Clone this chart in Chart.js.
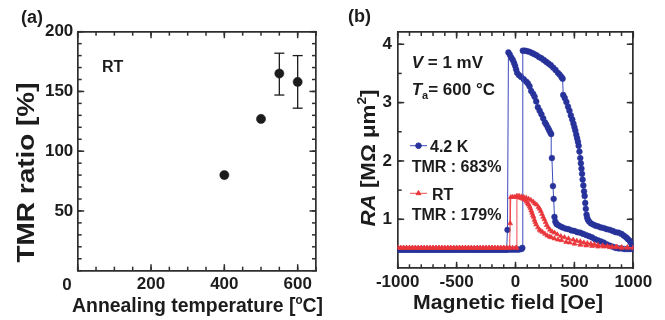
<!DOCTYPE html>
<html><head><meta charset="utf-8">
<script src="https://cdn.jsdelivr.net/npm/chart.js@4.4.1/dist/chart.umd.min.js"></script>
<style>
html,body{margin:0;padding:0;background:#fff;}
#wrap{position:relative;width:665px;height:320px;overflow:hidden;background:#fff;}
canvas{position:absolute;top:0;}
#ca{left:0;} #cb{left:330px;}
</style></head><body>
<div id="wrap"><canvas id="ca" width="330" height="320"></canvas><canvas id="cb" width="335" height="320"></canvas></div>
<script>
// ---------- Panel (a) data ----------
const annealTemps = [400, 500, 550, 600];
const tmrRatio    = [80, 127, 165, 158];
const tmrErrLow   = [null, null, 147, 136];
const tmrErrHigh  = [null, null, 182, 180];
const aXTicks = [0, 200, 400, 600];
const aYTicks = [50, 100, 150, 200];

// ---------- Panel (b) data: [field (Oe), RA (MOhm um^2)] ----------
const blueUp = [[-1000,0.48],[-975,0.48],[-950,0.48],[-925,0.48],[-900,0.48],[-875,0.48],[-850,0.48],[-825,0.48],[-800,0.48],[-775,0.48],[-750,0.48],[-725,0.48],[-700,0.48],[-675,0.48],[-650,0.48],[-625,0.48],[-600,0.48],[-575,0.48],[-550,0.48],[-525,0.48],[-500,0.48],[-475,0.48],[-450,0.48],[-425,0.48],[-400,0.48],[-375,0.48],[-350,0.48],[-325,0.48],[-300,0.48],[-275,0.48],[-250,0.48],[-225,0.48],[-200,0.48],[-175,0.48],[-150,0.48],[-125,0.48],[-100,0.48],[-75,0.48],[-50,0.48],[-25,0.48],[0,0.48],[25,0.48],[50,0.49],[58,0.51],
 [62,3.89],[80,3.89],[100,3.88],[120,3.87],[140,3.85],[160,3.83],[180,3.81],[200,3.78],[220,3.76],[240,3.73],[260,3.70],[280,3.67],[300,3.64],[320,3.60],[340,3.56],[360,3.51],[375,3.48],[390,3.44],[400,3.41],
 [405,3.13],[418,3.08],[432,3.01],[446,2.93],[458,2.86],[470,2.78],[482,2.71],[492,2.64],[500,2.58],[508,2.52],[516,2.45],[523,2.39],[530,2.33],[536,2.26],[543,2.16],[550,2.05],[555,1.96],[560,1.87],[565,1.78],[570,1.68],[576,1.58],[582,1.48],[587,1.40],[592,1.28],[597,1.18],[603,1.08],[608,1.03],[615,0.99],[625,0.96],[640,0.93],[660,0.91],[680,0.89],[700,0.88],[725,0.86],[750,0.85],[775,0.83],[800,0.82],[825,0.80],[850,0.78],[875,0.77],[900,0.75],[920,0.72],[940,0.69],[955,0.66],[970,0.63],[980,0.60],[990,0.56],[1000,0.52]];

const blueDown = [[1000,0.49],[975,0.49],[950,0.49],[925,0.49],[900,0.50],[875,0.50],[850,0.51],[825,0.53],[800,0.55],[775,0.57],[750,0.60],[725,0.62],[700,0.64],[675,0.66],[650,0.69],[625,0.71],[600,0.73],[575,0.75],[550,0.77],[525,0.78],[500,0.80],[475,0.81],[450,0.83],[425,0.84],[400,0.86],[380,0.88],[362,0.90],[348,0.92],[338,0.96],[331,1.04],[324,1.35],[318,1.57],[309,2.05],[303,2.46],
 [295,2.49],[285,2.53],[275,2.57],[262,2.62],[250,2.66],[235,2.73],[220,2.80],[205,2.86],[190,2.92],[176,3.02],[162,3.10],[150,3.15],[133,3.20],[119,3.28],[105,3.33],[91,3.36],[70,3.40],[48,3.44],[30,3.47],[14,3.51],[5,3.57],[-3,3.63],[-12,3.68],[-23,3.73],[-35,3.77],[-48,3.82],[-60,3.86],
 [-68,0.82],[-75,0.48],[-100,0.48],[-125,0.48],[-150,0.48],[-175,0.48],[-200,0.48],[-225,0.48],[-250,0.48],[-275,0.48],[-300,0.48],[-325,0.48],[-350,0.48],[-375,0.48],[-400,0.48],[-425,0.48],[-450,0.48],[-475,0.48],[-500,0.48],[-525,0.48],[-550,0.48],[-575,0.48],[-600,0.48],[-625,0.48],[-650,0.48],[-675,0.48],[-700,0.48],[-725,0.48],[-750,0.48],[-775,0.48],[-800,0.48],[-825,0.48],[-850,0.48],[-875,0.48],[-900,0.48],[-925,0.48],[-950,0.48],[-975,0.48],[-1000,0.48]];

const redUp = [[-1000,0.51],[-975,0.51],[-950,0.51],[-925,0.51],[-900,0.51],[-875,0.51],[-850,0.51],[-825,0.51],[-800,0.51],[-775,0.51],[-750,0.51],[-725,0.51],[-700,0.51],[-675,0.51],[-650,0.51],[-625,0.51],[-600,0.51],[-575,0.51],[-550,0.51],[-525,0.51],[-500,0.51],[-475,0.51],[-450,0.51],[-425,0.51],[-400,0.51],[-375,0.51],[-350,0.51],[-325,0.51],[-300,0.51],[-275,0.51],[-250,0.51],[-225,0.51],[-200,0.51],[-175,0.51],[-150,0.51],[-125,0.51],[-100,0.51],[-75,0.51],[-50,0.51],[-25,0.51],[0,0.51],[10,0.51],
 [12,1.40],[30,1.40],[50,1.39],[70,1.38],[90,1.37],[110,1.35],[130,1.33],[150,1.30],[165,1.27],[180,1.25],[195,1.21],[205,1.18],[215,1.14],[225,1.09],[235,1.04],[245,1.00],[255,0.95],[265,0.90],[278,0.86],[292,0.82],[310,0.79],[332,0.77],[355,0.74],[385,0.71],[416,0.69],[450,0.67],[490,0.65],[520,0.63],[550,0.62],[580,0.60],[610,0.59],[640,0.58],[670,0.57],[700,0.56],[740,0.55],[780,0.54],[820,0.53],[860,0.53],[900,0.52],[950,0.52],[1000,0.51]];

const redDown = [[1000,0.51],[950,0.51],[900,0.51],[850,0.52],[800,0.52],[750,0.53],[700,0.53],[650,0.54],[600,0.55],[550,0.56],[500,0.58],[460,0.60],[430,0.61],[390,0.64],[360,0.65],[330,0.67],[305,0.69],[290,0.70],[270,0.72],[250,0.75],[230,0.78],[215,0.80],[204,0.82],[190,0.86],[175,0.91],[168,0.95],[160,0.99],[153,1.04],[147,1.07],[140,1.11],[133,1.15],[126,1.19],[120,1.22],[112,1.25],[105,1.27],[95,1.30],[80,1.33],[65,1.35],[50,1.36],[35,1.37],[20,1.38],[5,1.38],[-10,1.38],[-25,1.38],[-40,1.38],
 [-45,0.93],[-50,0.51],[-75,0.51],[-100,0.51],[-125,0.51],[-150,0.51],[-175,0.51],[-200,0.51],[-225,0.51],[-250,0.51],[-275,0.51],[-300,0.51],[-325,0.51],[-350,0.51],[-375,0.51],[-400,0.51],[-425,0.51],[-450,0.51],[-475,0.51],[-500,0.51],[-525,0.51],[-550,0.51],[-575,0.51],[-600,0.51],[-625,0.51],[-650,0.51],[-675,0.51],[-700,0.51],[-725,0.51],[-750,0.51],[-775,0.51],[-800,0.51],[-825,0.51],[-850,0.51],[-875,0.51],[-900,0.51],[-925,0.51],[-950,0.51],[-975,0.51],[-1000,0.51]];

const bXTicks = [-1000, -500, 0, 500, 1000];
const bYTicks = [1, 2, 3, 4];

// ---------- styling ----------
const FONT = '"Liberation Sans", Arial, Helvetica, sans-serif';
const INK = '#1c1c1c', FRAME = '#2e2e2e';
const BLUE = '#27339a', BLUE_LINE = '#3b4bbd', RED = '#e9363b', RED_LINE = '#ef4a4e';

function f(size, style) { return (style || 'bold') + ' ' + size + 'px ' + FONT; }

function drawRich(ctx, segs, x, y, align) {
  let w = 0;
  segs.forEach(s => { ctx.font = s.f; w += ctx.measureText(s.t).width; });
  let cx = align === 'center' ? x - w / 2 : x;
  ctx.textBaseline = 'alphabetic'; ctx.textAlign = 'left'; ctx.fillStyle = INK;
  segs.forEach(s => { ctx.font = s.f; ctx.fillText(s.t, cx, y + (s.dy || 0)); cx += ctx.measureText(s.t).width; });
}
function drawRichScaled(ctx, segs, cx, baseY, target, rotate) {
  let w = 0;
  segs.forEach(s => { ctx.font = s.f; w += ctx.measureText(s.t).width; });
  const k = target ? target / w : 1;
  ctx.save();
  ctx.translate(cx, baseY);
  if (rotate) ctx.rotate(-Math.PI / 2);
  ctx.scale(k, 1);
  ctx.textBaseline = 'alphabetic'; ctx.textAlign = 'left'; ctx.fillStyle = INK;
  let x = -w / 2;
  segs.forEach(s => { ctx.font = s.f; ctx.fillText(s.t, x, (s.dy || 0)); x += ctx.measureText(s.t).width; });
  ctx.restore();
}

function setTicks(arr) { return s => { s.ticks = arr.map(v => ({ value: v })); }; }

// inward tick marks, taken from each scale's own ticks
const inTicks = {
  id: 'inTicks',
  beforeDatasetsDraw(chart) {
    const ctx = chart.ctx, a = chart.chartArea;
    ctx.save();
    ctx.strokeStyle = FRAME; ctx.lineWidth = 1.5; ctx.lineCap = 'butt';
    Object.values(chart.scales).forEach(s => {
      const len = s.options.weight === 1 ? 6.5 : 4;
      const pos = s.options.position;
      s.ticks.forEach(t => {
        const p = s.getPixelForValue(t.value);
        ctx.beginPath();
        if (pos === 'bottom') { ctx.moveTo(p, a.bottom); ctx.lineTo(p, a.bottom - len); }
        else if (pos === 'top') { ctx.moveTo(p, a.top); ctx.lineTo(p, a.top + len); }
        else if (pos === 'left') { ctx.moveTo(a.left, p); ctx.lineTo(a.left + len, p); }
        else { ctx.moveTo(a.right, p); ctx.lineTo(a.right - len, p); }
        ctx.stroke();
      });
    });
    ctx.restore();
  }
};

function buildScales(o) {
  const tickFont = { family: FONT, size: 17, weight: 'bold' };
  const major = (pos, isX, w) => ({
    type: 'linear', position: pos, display: true, weight: 1,
    min: isX ? o.xmin : o.ymin, max: isX ? o.xmax : o.ymax,
    afterBuildTicks: setTicks(isX ? o.xMajor : o.yMajor),
    afterFit: s => { if (isX) s.height = w; else s.width = w; },
    grid: { drawOnChartArea: false, drawTicks: false },
    border: { display: true, color: FRAME, width: 1.7 },
    ticks: {
      display: true, autoSkip: false, maxRotation: 0, minRotation: 0,
      padding: isX ? o.xPad : o.yPad, color: INK, font: tickFont,
      callback: (pos === 'bottom') ? o.xFmt : (pos === 'left' ? o.yFmt : () => '')
    }
  });
  const minor = (pos, isX) => ({
    type: 'linear', position: pos, display: true, weight: 0,
    min: isX ? o.xmin : o.ymin, max: isX ? o.xmax : o.ymax,
    afterFit: s => { if (isX) s.height = 0; else s.width = 0; },
    grid: { drawOnChartArea: false, drawTicks: false },
    border: { display: false },
    ticks: { autoSkip: false, includeBounds: false, stepSize: isX ? o.xStep : o.yStep, maxRotation: 0, callback: () => '', font: { size: 1 } }
  });
  return {
    xm: minor('bottom', true), ym: minor('left', false), xtm: minor('top', true), yrm: minor('right', false),
    x: major('bottom', true, o.bottomH), y: major('left', false, o.leftW),
    xt: major('top', true, 0), yr: major('right', false, 0)
  };
}

// ---------- Panel (a) ----------
const textA = {
  id: 'textA',
  afterDraw(chart) {
    const ctx = chart.ctx;
    ctx.save();
    drawRich(ctx, [{ t: '(a)', f: f(18) }], 21, 23, 'left');
    drawRich(ctx, [{ t: 'RT', f: f(16) }], 102, 71.7, 'left');
    drawRich(ctx, [{ t: '0', f: f(17) }], 67, 290, 'center');
    drawRichScaled(ctx, [{ t: 'TMR ratio [%]', f: f(24) }], 34.3, 172.5, 180, true);
    drawRichScaled(ctx, [{ t: 'Annealing temperature [', f: f(20) }, { t: 'o', f: f(12), dy: -8 }, { t: 'C]', f: f(20) }], 197.5, 311.5, 251, false);
    ctx.restore();
  }
};

const errSets = [];
annealTemps.forEach((t, i) => {
  if (tmrErrLow[i] !== null) {
    errSets.push({
      data: [{ x: t, y: tmrErrLow[i] }, { x: t, y: tmrErrHigh[i] }],
      showLine: true, borderColor: INK, borderWidth: 1.3,
      pointStyle: 'line', pointRadius: 5, pointBorderWidth: 1.3, pointBorderColor: INK, pointBackgroundColor: INK,
      clip: false
    });
  }
});

new Chart(document.getElementById('ca'), {
  type: 'scatter',
  data: {
    datasets: [{
      data: annealTemps.map((x, i) => ({ x, y: tmrRatio[i] })),
      pointRadius: 4.6, pointBackgroundColor: INK, pointBorderColor: INK, pointBorderWidth: 0.5, showLine: false
    }].concat(errSets)
  },
  options: {
    responsive: false, animation: false, events: [],
    layout: { padding: { left: 0, top: 31.7, right: 14, bottom: 0 } },
    plugins: { legend: { display: false }, tooltip: { enabled: false } },
    scales: buildScales({
      xmin: 0, xmax: 650, ymin: 0, ymax: 200, xMajor: aXTicks, yMajor: aYTicks, xStep: 50, yStep: 10,
      leftW: 77.7, bottomH: 49.3, xPad: 3.1, yPad: 4.4,
      xFmt: v => (v === 0 ? '' : String(v)), yFmt: v => String(v)
    })
  },
  plugins: [inTicks, textA]
});

// ---------- Panel (b) ----------
const textB = {
  id: 'textB',
  afterDraw(chart) {
    const ctx = chart.ctx;
    ctx.save();
    drawRich(ctx, [{ t: '(b)', f: f(18) }], 18, 22, 'left');
    drawRichScaled(ctx, [{ t: 'RA', f: f(21, 'italic bold') }, { t: ' [MΩ μm', f: f(21) }, { t: '2', f: f(13), dy: -9 }, { t: ']', f: f(21) }], 44.8, 158, 137, true);
    drawRichScaled(ctx, [{ t: 'Magnetic field [Oe]', f: f(21) }], 178, 308.5, 190, false);
    drawRich(ctx, [{ t: 'V', f: f(17, 'italic bold') }, { t: ' = 1 mV', f: f(17) }], 81.7, 68.3, 'left');
    drawRich(ctx, [{ t: 'T', f: f(17, 'italic bold') }, { t: 'a', f: f(11), dy: 4 }, { t: '= 600 °C', f: f(17) }], 81.7, 95, 'left');
    // legend
    const H = Chart.helpers;
    ctx.lineWidth = 1; ctx.strokeStyle = BLUE_LINE;
    ctx.beginPath(); ctx.moveTo(80, 145.7); ctx.lineTo(97, 145.7); ctx.stroke();
    ctx.fillStyle = BLUE; ctx.strokeStyle = BLUE;
    H.drawPoint(ctx, { pointStyle: 'circle', radius: 2.8, borderWidth: 0.5, rotation: 0 }, 88.5, 145.7);
    ctx.lineWidth = 1; ctx.strokeStyle = RED_LINE;
    ctx.beginPath(); ctx.moveTo(80, 193.3); ctx.lineTo(97, 193.3); ctx.stroke();
    ctx.fillStyle = RED; ctx.strokeStyle = RED;
    H.drawPoint(ctx, { pointStyle: 'triangle', radius: 2.8, borderWidth: 0.5, rotation: 0 }, 88.5, 193.3);
    drawRich(ctx, [{ t: '4.2 K', f: f(16) }], 100, 152, 'left');
    drawRich(ctx, [{ t: 'TMR : 683%', f: f(16) }], 81.7, 172, 'left');
    drawRich(ctx, [{ t: 'RT', f: f(16) }], 102, 200, 'left');
    drawRich(ctx, [{ t: 'TMR : 179%', f: f(16) }], 81.7, 220, 'left');
    ctx.restore();
  }
};

const toXY = arr => arr.map(p => ({ x: p[0], y: p[1] }));
const blueStyle = { showLine: true, borderColor: BLUE_LINE, borderWidth: 1, pointStyle: 'circle', pointRadius: 2.9, pointBackgroundColor: BLUE, pointBorderColor: BLUE, pointBorderWidth: 0.5, order: 1, tension: 0 };
const redStyle = { showLine: true, borderColor: RED_LINE, borderWidth: 1, pointStyle: 'triangle', pointRadius: 2.8, pointBackgroundColor: RED, pointBorderColor: RED, pointBorderWidth: 0.6, order: 0, tension: 0 };

new Chart(document.getElementById('cb'), {
  type: 'scatter',
  data: {
    datasets: [
      Object.assign({ label: 'RT up', data: toXY(redUp) }, redStyle),
      Object.assign({ label: 'RT down', data: toXY(redDown) }, redStyle),
      Object.assign({ label: '4.2 K up', data: toXY(blueUp) }, blueStyle),
      Object.assign({ label: '4.2 K down', data: toXY(blueDown) }, blueStyle)
    ]
  },
  options: {
    responsive: false, animation: false, events: [],
    layout: { padding: { left: 0, top: 32, right: 31.7, bottom: 0 } },
    plugins: { legend: { display: false }, tooltip: { enabled: false } },
    scales: buildScales({
      xmin: -1000, xmax: 1000, ymin: 0.16, ymax: 4.21, xMajor: bXTicks, yMajor: bYTicks, xStep: 100, yStep: 0.5,
      leftW: 67.7, bottomH: 51.7, xPad: 4, yPad: 5.7,
      xFmt: v => String(v), yFmt: v => String(v)
    })
  },
  plugins: [inTicks, textB]
});
</script>
</body></html>
